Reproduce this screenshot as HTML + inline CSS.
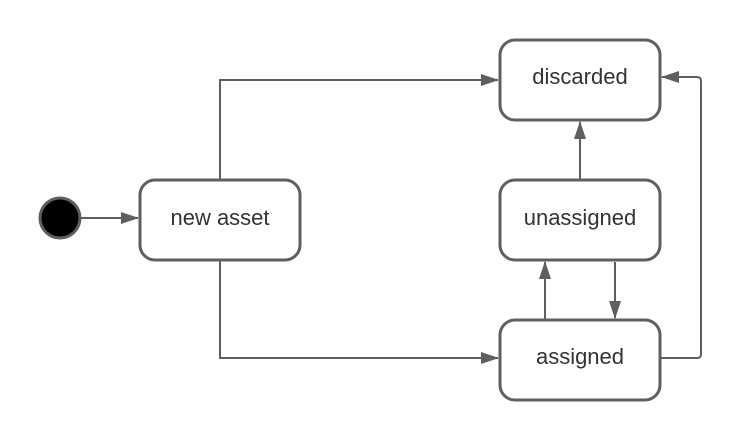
<!DOCTYPE html>
<html><head><style>body{margin:0;background:#fff}svg{display:block}</style></head><body>
<svg width="742" height="440" viewBox="0 0 742 440" xmlns="http://www.w3.org/2000/svg">
<defs>
<marker id="b" markerWidth="18" markerHeight="12" refX="17" refY="6" orient="auto" markerUnits="userSpaceOnUse"><path d="M0,0 L18,6 L0,12 z" fill="#5f5f5f"/></marker></defs>
<g fill="none" stroke="#5f5f5f" stroke-width="2">
<path d="M80,218 H138" marker-end="url(#b)"/>
<path d="M220,180 V80 H498" marker-end="url(#b)"/>
<path d="M220,260 V358 H498" marker-end="url(#b)"/>
<path d="M580,180 V122" marker-end="url(#b)"/>
<path d="M545,320 V262" marker-end="url(#b)"/>
<path d="M615,262 V318" marker-end="url(#b)"/>
<path d="M660,358 H697 Q701,358 701,354 V81 Q701,77 697,77 H662" marker-end="url(#b)"/>
</g>
<circle cx="60" cy="218" r="20" fill="#000" stroke="#5f5f5f" stroke-width="3"/>
<g fill="#fff" stroke="#5f5f5f" stroke-width="3">
<rect x="140" y="180" width="160" height="80" rx="15"/>
<rect x="500" y="40" width="160" height="80" rx="15"/>
<rect x="500" y="180" width="160" height="80" rx="15"/>
<rect x="500" y="320" width="160" height="80" rx="15"/>
</g>
<g font-family="Liberation Sans, sans-serif" font-size="22" fill="#333" text-anchor="middle">
<text x="220" y="225">new asset</text>
<text x="580" y="84">discarded</text>
<text x="580" y="225">unassigned</text>
<text x="580" y="364">assigned</text>
</g>
</svg>
</body></html>
